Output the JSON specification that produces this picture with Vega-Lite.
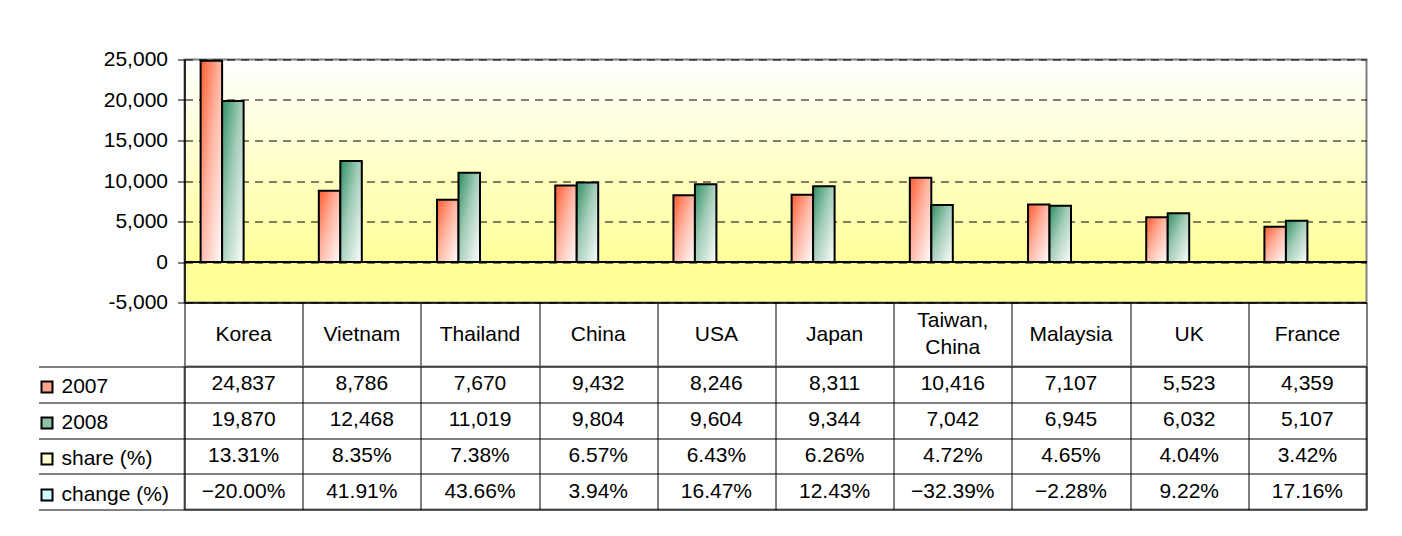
{
  "$schema": "https://vega.github.io/schema/vega-lite/v6.json",
  "background": "white",
  "padding": {"left": 36.5, "top": 47.5, "right": 10, "bottom": 5},
  "config": {
    "font": "Liberation Sans",
    "axis": {"labelColor": "black", "labelFont": "Liberation Sans"},
    "legend": {"labelColor": "black", "labelFont": "Liberation Sans"}
  },
  "bounds": "flush",
  "spacing": 0,
  "datasets": {
    "trade": [
      {"country": "Korea", "series": "2007", "value": 24837},
      {"country": "Korea", "series": "2008", "value": 19870},
      {"country": "Korea", "series": "share (%)", "value": 0.1331},
      {"country": "Korea", "series": "change (%)", "value": -0.2},
      {"country": "Vietnam", "series": "2007", "value": 8786},
      {"country": "Vietnam", "series": "2008", "value": 12468},
      {"country": "Vietnam", "series": "share (%)", "value": 0.0835},
      {"country": "Vietnam", "series": "change (%)", "value": 0.4191},
      {"country": "Thailand", "series": "2007", "value": 7670},
      {"country": "Thailand", "series": "2008", "value": 11019},
      {"country": "Thailand", "series": "share (%)", "value": 0.0738},
      {"country": "Thailand", "series": "change (%)", "value": 0.4366},
      {"country": "China", "series": "2007", "value": 9432},
      {"country": "China", "series": "2008", "value": 9804},
      {"country": "China", "series": "share (%)", "value": 0.0657},
      {"country": "China", "series": "change (%)", "value": 0.0394},
      {"country": "USA", "series": "2007", "value": 8246},
      {"country": "USA", "series": "2008", "value": 9604},
      {"country": "USA", "series": "share (%)", "value": 0.0643},
      {"country": "USA", "series": "change (%)", "value": 0.1647},
      {"country": "Japan", "series": "2007", "value": 8311},
      {"country": "Japan", "series": "2008", "value": 9344},
      {"country": "Japan", "series": "share (%)", "value": 0.0626},
      {"country": "Japan", "series": "change (%)", "value": 0.1243},
      {"country": "Taiwan, China", "series": "2007", "value": 10416},
      {"country": "Taiwan, China", "series": "2008", "value": 7042},
      {"country": "Taiwan, China", "series": "share (%)", "value": 0.0472},
      {"country": "Taiwan, China", "series": "change (%)", "value": -0.3239},
      {"country": "Malaysia", "series": "2007", "value": 7107},
      {"country": "Malaysia", "series": "2008", "value": 6945},
      {"country": "Malaysia", "series": "share (%)", "value": 0.0465},
      {"country": "Malaysia", "series": "change (%)", "value": -0.0228},
      {"country": "UK", "series": "2007", "value": 5523},
      {"country": "UK", "series": "2008", "value": 6032},
      {"country": "UK", "series": "share (%)", "value": 0.0404},
      {"country": "UK", "series": "change (%)", "value": 0.0922},
      {"country": "France", "series": "2007", "value": 4359},
      {"country": "France", "series": "2008", "value": 5107},
      {"country": "France", "series": "share (%)", "value": 0.0342},
      {"country": "France", "series": "change (%)", "value": 0.1716}
    ]
  },
  "vconcat": [
    {
      "width": 1182,
      "height": 243,
      "view": {
        "fill": {"gradient": "linear", "x1": 0, "y1": 0, "x2": 0, "y2": 1, "stops": [{"offset": 0, "color": "#ffffff"}, {"offset": 0.83, "color": "#ffff99"}, {"offset": 1, "color": "#ffff99"}]},
        "stroke": "#808080",
        "strokeWidth": 2
      },
      "data": {"name": "trade"},
      "encoding": {
        "y": {
          "field": "value", "type": "quantitative",
          "scale": {"domain": [-5000, 25000], "nice": false},
          "axis": {
            "title": null, "values": [-5000, 0, 5000, 10000, 15000, 20000, 25000], "format": ",",
            "labelExpr": "replace(format(datum.value, ','), '\u2212', '-')",
            "labelFontSize": 21, "labelPadding": 10, "tickSize": 7, "tickColor": "black", "domainColor": "black", "domainWidth": 1.5,
            "grid": true, "gridColor": "black", "gridWidth": 1, "gridDash": [8, 6]
          }
        }
      },
      "layer": [
        {
          "transform": [{"filter": "datum.series == '2007'"}],
          "mark": {"type": "bar", "stroke": "black", "strokeWidth": 2,
            "fill": {"gradient": "linear", "x1": 0, "y1": 0, "x2": 1, "y2": 1, "stops": [{"offset": 0, "color": "#ff5c2e"}, {"offset": 0.45, "color": "#ffb3a0"}, {"offset": 1, "color": "#ffffff"}]}},
          "encoding": {
            "x": {
              "field": "country", "type": "nominal",
              "sort": ["Korea", "Vietnam", "Thailand", "China", "USA", "Japan", "Taiwan, China", "Malaysia", "UK", "France"],
              "scale": {"paddingInner": 0, "paddingOuter": 0},
              "axis": {"title": null, "labels": false, "ticks": false, "domainColor": "black", "domainWidth": 1.5}
            },
            "xOffset": {
              "field": "series", "type": "nominal",
              "scale": {"domain": ["2007", "2008", "share (%)", "change (%)"], "paddingInner": 0, "paddingOuter": 0.75}
            }
          }
        },
        {
          "transform": [{"filter": "datum.series == '2008'"}],
          "mark": {"type": "bar", "stroke": "black", "strokeWidth": 2,
            "fill": {"gradient": "linear", "x1": 0, "y1": 0, "x2": 1, "y2": 1, "stops": [{"offset": 0, "color": "#2f8f62"}, {"offset": 0.45, "color": "#a3cdb8"}, {"offset": 1, "color": "#ffffff"}]}},
          "encoding": {
            "x": {
              "field": "country", "type": "nominal",
              "sort": ["Korea", "Vietnam", "Thailand", "China", "USA", "Japan", "Taiwan, China", "Malaysia", "UK", "France"]
            },
            "xOffset": {"field": "series", "type": "nominal"}
          }
        },
        {
          "mark": {"type": "point", "shape": "square", "filled": true, "opacity": 0, "stroke": "black", "strokeWidth": 2},
          "encoding": {
            "fill": {
              "field": "series", "type": "nominal",
              "scale": {"domain": ["2007", "2008", "share (%)", "change (%)"], "range": ["#ffa48c", "#8fc3a8", "#ffffcc", "#ccffff"]},
              "legend": {
                "title": null, "orient": "none", "legendX": -148, "legendY": 317, "padding": 0,
                "symbolType": "square", "symbolSize": 121, "symbolStrokeColor": "black", "symbolStrokeWidth": 2, "symbolOpacity": 1,
                "labelFontSize": 21, "labelOffset": 4, "rowPadding": 14, "labelLimit": 0
              }
            }
          }
        },
        {
          "mark": {"type": "rule", "color": "black", "strokeWidth": 1},
          "encoding": {"y": {"datum": 0}}
        }
      ]
    },
    {
      "width": 1182,
      "height": 64,
      "view": {"stroke": null},
      "data": {"name": "trade"},
      "transform": [{"filter": "datum.series == '2007'"}],
      "encoding": {
        "x": {
          "field": "country", "type": "nominal",
          "sort": ["Korea", "Vietnam", "Thailand", "China", "USA", "Japan", "Taiwan, China", "Malaysia", "UK", "France"],
          "scale": {"type": "band", "paddingInner": 0, "paddingOuter": 0},
          "axis": {"title": null, "labels": false, "ticks": false, "domain": false, "grid": true, "tickBand": "extent", "gridColor": "black", "gridOpacity": 1}
        },
        "text": {"field": "country", "type": "nominal"}
      },
      "layer": [
        {
          "transform": [{"filter": "indexof(datum.country, ' ') < 0"}],
          "mark": {"type": "text", "fontSize": 21, "color": "black"}
        },
        {
          "transform": [{"filter": "indexof(datum.country, ' ') >= 0"}],
          "mark": {"type": "text", "fontSize": 21, "color": "black", "lineBreak": " ", "lineHeight": 27, "dy": -13.5}
        }
      ]
    },
    {
      "width": 1182,
      "height": 143,
      "view": {"stroke": "#808080", "strokeWidth": 2},
      "data": {"name": "trade"},
      "encoding": {
        "x": {
          "field": "country", "type": "nominal",
          "sort": ["Korea", "Vietnam", "Thailand", "China", "USA", "Japan", "Taiwan, China", "Malaysia", "UK", "France"],
          "scale": {"type": "band", "paddingInner": 0, "paddingOuter": 0},
          "axis": {"title": null, "labels": false, "ticks": false, "domain": false, "grid": true, "tickBand": "extent", "gridColor": "black", "gridOpacity": 1}
        },
        "y": {
          "field": "series", "type": "nominal",
          "sort": ["2007", "2008", "share (%)", "change (%)"],
          "scale": {"type": "band", "paddingInner": 0, "paddingOuter": 0},
          "axis": {
            "title": null, "labels": false,
            "ticks": true, "tickSize": 146, "tickBand": "extent", "tickColor": "black",
            "domain": false, "grid": true, "gridColor": "black", "gridOpacity": 1
          }
        }
      },
      "layer": [
        {
          "transform": [{"filter": "datum.series == '2007' || datum.series == '2008'"}],
          "mark": {"type": "text", "fontSize": 21, "color": "black"},
          "encoding": {"text": {"field": "value", "type": "quantitative", "format": ","}}
        },
        {
          "transform": [{"filter": "datum.series == 'share (%)' || datum.series == 'change (%)'"}],
          "mark": {"type": "text", "fontSize": 21, "color": "black"},
          "encoding": {"text": {"field": "value", "type": "quantitative", "format": ".2%"}}
        }
      ]
    }
  ]
}
